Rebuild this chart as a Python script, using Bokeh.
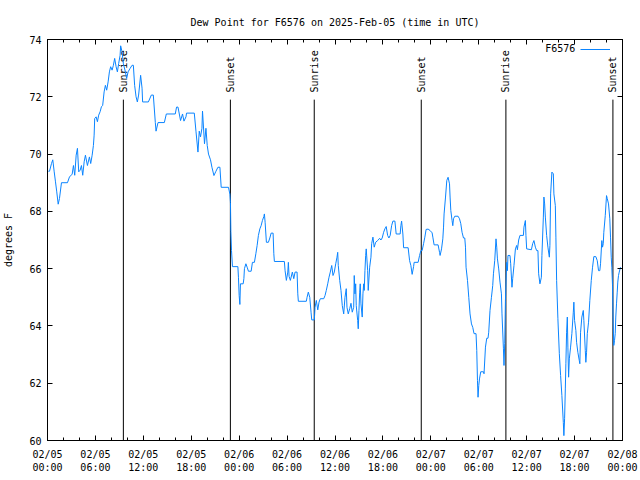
import numpy as np
from bokeh.plotting import figure
from bokeh.models import Range1d, FixedTicker, LinearAxis, Legend, LegendItem, Label
from bokeh.embed import file_html
from bokeh.resources import INLINE
from bokeh.core.properties import value

# hours since 2025-02-05 00:00 UTC
hours = [0.1, 0.25, 0.5, 0.66, 0.84, 1.0, 1.16, 1.34, 1.5, 1.75, 2.5, 2.75, 3.09, 3.25, 3.41, 3.59, 3.75,
         3.91, 4.09, 4.25, 4.41, 4.59, 4.75, 5.0, 5.25, 5.41, 5.59, 5.75, 5.84, 5.91, 6.09, 6.25, 6.41,
         6.59, 6.75, 6.91, 7.09, 7.25, 7.41, 7.59, 7.75, 7.91, 8.09, 8.25, 8.41, 8.59, 8.75, 8.91, 9.09,
         9.16, 9.34, 9.5, 9.75, 9.91, 10.09, 10.34, 10.59, 10.75, 10.91, 11.09, 11.25, 11.41, 11.66, 11.84,
         11.91, 12.63, 13.0, 13.25, 13.5, 13.59, 13.84, 14.63, 14.88, 16.0, 16.16, 16.34, 16.66, 16.91,
         17.09, 17.34, 17.41, 18.38, 18.59, 18.84, 19.0, 19.16, 19.34, 19.41, 19.66, 19.84, 20.0, 20.16,
         20.41, 20.59, 20.84, 21.09, 21.34, 21.59, 21.75, 22.66, 22.84, 22.91, 22.96, 23.04, 23.16, 23.84,
         23.91, 24.0, 24.09, 24.16, 24.5, 24.59, 24.66, 24.84, 25.0, 25.16, 25.5, 25.66, 25.91, 26.09,
         26.25, 26.41, 26.59, 26.75, 26.91, 27.09, 27.16, 27.25, 27.41, 27.66, 27.84, 28.0, 28.25, 28.34,
         28.41, 29.66, 29.75, 29.91, 30.09, 30.16, 30.25, 30.41, 30.66, 30.84, 31.0, 31.25, 31.34, 31.41,
         32.41, 32.5, 32.66, 32.84, 33.0, 33.09, 33.41, 33.5, 33.66, 33.84, 34.0, 34.16, 34.59, 34.75,
         34.91, 35.09, 35.25, 35.41, 35.59, 35.75, 35.91, 36.09, 36.25, 36.34, 36.41, 36.59, 36.75, 36.91,
         37.09, 37.25, 37.41, 37.5, 37.66, 37.84, 38.0, 38.16, 38.34, 38.41, 38.5, 38.59, 38.66, 38.84,
         38.91, 39.0, 39.09, 39.16, 39.25, 39.41, 39.5, 39.59, 39.66, 39.75, 39.84, 39.91, 40.09, 40.16,
         40.34, 40.5, 40.59, 40.75, 40.91, 41.09, 41.34, 41.59, 41.75, 41.91, 42.09, 42.25, 42.41, 42.59,
         42.75, 42.91, 43.09, 43.25, 43.5, 43.66, 44.16, 44.25, 44.34, 44.5, 44.59, 45.16, 45.34, 45.5,
         45.66, 45.84, 45.91, 46.41, 46.59, 46.75, 46.91, 47.09, 47.25, 47.41, 47.66, 47.91, 48.16, 48.25,
         48.41, 48.91, 49.09, 49.16, 49.34, 49.5, 49.59, 49.66, 49.84, 50.0, 50.16, 50.34, 50.41, 50.5,
         50.66, 50.75, 50.84, 51.0, 51.41, 51.59, 51.75, 51.91, 52.09, 52.25, 52.34, 52.41, 52.59, 52.75,
         52.91, 53.09, 53.25, 53.41, 53.66, 53.75, 53.84, 53.91, 54.0, 54.09, 54.25, 54.59, 54.66, 54.84,
         55.0, 55.16, 55.25, 55.41, 55.59, 55.75, 55.84, 56.0, 56.16, 56.25, 56.34, 56.5, 56.66, 56.84,
         56.91, 57.09, 57.16, 57.25, 57.34, 57.5, 57.59, 57.66, 57.91, 58.0, 58.16, 58.25, 58.41, 58.59,
         58.75, 58.84, 59.0, 59.16, 59.59, 59.66, 59.84, 59.91, 60.0, 60.59, 60.75, 60.91, 61.09, 61.25,
         61.41, 61.5, 61.66, 61.84, 61.91, 62.09, 62.16, 62.25, 62.34, 62.5, 62.66, 62.84, 62.91, 63.0,
         63.16, 63.34, 63.41, 63.59, 63.66, 63.75, 63.91, 64.09, 64.25, 64.41, 64.59, 64.66, 64.75, 64.84,
         64.91, 65.0, 65.09, 65.16, 65.25, 65.34, 65.5, 65.66, 65.84, 65.91, 66.0, 66.16, 66.25, 66.41,
         66.59, 66.66, 66.75, 66.91, 67.09, 67.16, 67.34, 67.41, 67.5, 67.59, 67.75, 67.91, 68.09, 68.25,
         68.41, 68.66, 68.84, 69.0, 69.16, 69.25, 69.41, 69.5, 69.59, 69.66, 69.84, 70.0, 70.09, 70.25,
         70.41, 70.5, 70.59, 70.66, 70.75, 70.84, 70.91, 71.0, 71.09, 71.16, 71.25, 71.34, 71.41, 71.5,
         71.59, 71.75]

dewpt = [69.4, 69.4, 69.67, 69.8, 69.38, 69.03, 68.68, 68.25, 68.45, 69.0, 69.0, 69.2, 69.3, 69.6, 69.26, 69.96, 70.2,
         69.38, 69.44, 69.6, 69.26, 69.73, 69.96, 69.6, 69.9, 69.67, 69.96, 70.3, 70.66, 71.24, 71.3, 71.13, 71.36,
         71.48, 71.65, 71.7, 72.17, 72.4, 72.23, 72.52, 72.87, 73.05, 72.93, 73.1, 73.34, 73.05, 72.87, 73.16, 73.45,
         73.78, 73.57, 73.16, 72.87, 72.64, 72.87, 72.99, 73.1, 73.1, 72.4, 72.0, 71.82, 72.06, 72.75, 72.3,
         71.82, 71.82, 72.06, 72.06, 71.1, 70.8, 71.1, 71.1, 71.4, 71.4, 71.64, 71.64, 71.17, 71.4,
         71.15, 71.3, 71.43, 71.43, 70.8, 70.07, 70.8, 70.6, 70.9, 71.5, 70.36, 70.9, 70.3, 70.0,
         69.8, 69.54, 69.25, 69.4, 69.54, 69.54, 68.84, 68.84, 68.6, 68.3, 67.3, 66.63, 66.07, 66.07,
         65.7, 65.06, 64.75, 65.47, 65.47, 65.65, 66.0, 66.17, 66.05, 65.91, 65.91, 66.22, 66.22, 66.52,
         66.81, 67.16, 67.39, 67.5, 67.68, 67.82, 67.91, 67.62, 66.92, 66.92, 67.07, 67.24, 67.24, 66.52,
         66.25, 66.25, 65.93, 65.59, 65.88, 66.22, 65.73, 65.59, 65.88, 65.65, 65.88, 65.88, 65.12, 64.86,
         64.86, 65.0, 65.18, 65.0, 64.48, 64.21, 64.21, 64.65, 64.89, 64.56, 64.83, 64.95, 64.95, 65.06,
         65.24, 65.47, 65.7, 65.88, 66.11, 65.76, 65.88, 66.17, 66.4, 66.57, 66.11, 65.59, 65.24, 64.71,
         64.42, 65.0, 65.3, 64.65, 64.42, 64.6, 64.79, 64.48, 64.65, 65.76, 65.12, 65.47, 64.71, 64.19,
         63.9, 64.54, 65.18, 65.47, 64.77, 64.31, 65.12, 65.47, 65.24, 65.93, 66.46, 66.69, 65.93, 65.24,
         66.05, 66.4, 66.87, 67.1, 66.75, 66.92, 66.98, 67.06, 67.0, 67.07, 67.27, 67.39, 67.47, 67.16,
         67.07, 67.16, 67.5, 67.66, 67.66, 67.21, 67.21, 67.5, 67.66, 67.21, 66.73, 66.73, 66.28, 66.11,
         65.8, 66.07, 66.22, 66.22, 66.46, 66.63, 66.63, 66.87, 67.1, 67.37, 67.38, 67.33, 67.25, 67.1,
         66.83, 66.83, 66.57, 66.46, 66.69, 67.04, 67.45, 67.91, 68.5, 69.08, 69.19, 68.96, 68.5, 68.03,
         67.68, 67.5, 67.74, 67.83, 67.83, 67.74, 67.57, 67.27, 67.07, 67.07, 66.75, 66.05, 65.59, 65.0,
         64.42, 64.07, 63.95, 63.73, 63.73, 63.14, 62.09, 61.51, 61.92, 62.15, 62.4, 62.4, 62.33, 63.26,
         63.57, 63.57, 63.78, 64.54, 65.0, 65.41, 65.82, 66.28, 67.04, 66.75, 66.34, 65.99, 65.53, 65.12,
         64.42, 63.2, 62.62, 63.38, 64.89, 66.22, 65.93, 66.46, 66.46, 66.17, 65.35, 65.65, 66.11, 66.69,
         66.81, 66.66, 67.0, 67.16, 67.16, 67.45, 67.68, 67.16, 66.69, 66.66, 66.87, 66.98, 66.75, 66.63,
         66.63, 65.82, 65.47, 65.7, 66.46, 67.8, 68.5, 68.26, 67.8, 67.16, 66.75, 66.4, 66.81, 68.61,
         69.37, 69.31, 68.61, 68.2, 67.1, 65.59, 64.25, 63.03, 62.27, 61.57, 60.63, 60.17, 60.76, 61.8,
         62.68, 63.78, 64.31, 63.26, 62.21, 62.85, 63.26, 63.73, 64.48, 64.83, 64.19, 63.84, 63.43, 63.08,
         62.79, 62.68, 63.78, 64.31, 64.54, 64.19, 63.14, 62.73, 63.08, 63.73, 64.13, 64.89, 65.59, 66.05,
         66.42, 66.42, 66.28, 65.93, 65.93, 66.17, 66.98, 66.75, 66.87, 67.27, 67.85, 68.55, 68.45, 68.26,
         67.74, 67.1, 66.4, 66.05, 65.41, 64.0, 63.32, 63.49, 63.73, 64.31, 64.77, 65.18, 65.53, 65.76,
         65.88, 66.05]

event_hours = [9.5, 22.9, 33.4, 46.8, 57.4, 70.8]
event_names = ["Sunrise", "Sunset", "Sunrise", "Sunset", "Sunrise", "Sunset"]

tick_hours = [0, 6, 12, 18, 24, 30, 36, 42, 48, 54, 60, 66, 72]
tick_labels = ["02/05\n00:00", "02/05\n06:00", "02/05\n12:00", "02/05\n18:00",
               "02/06\n00:00", "02/06\n06:00", "02/06\n12:00", "02/06\n18:00",
               "02/07\n00:00", "02/07\n06:00", "02/07\n12:00", "02/07\n18:00",
               "02/08\n00:00"]
minor_hours = list(range(0, 73, 2))
y_ticks = [60, 62, 64, 66, 68, 70, 72, 74]

FONT = "DejaVu Sans Mono"
FS = "10px"
BLUE = "#0a84ff"

p = figure(width=640, height=480, output_backend="svg", toolbar_location=None,
           x_range=Range1d(0, 72), y_range=Range1d(60, 74),
           min_border_left=46, min_border_right=18, min_border_top=39, min_border_bottom=40,
           title="Dew Point for F6576 on 2025-Feb-05 (time in UTC)")
p.title.align = "center"
p.title.text_font = FONT
p.title.text_font_size = FS
p.title.text_font_style = "normal"
p.title.text_color = "black"
p.title.standoff = 23
p.xgrid.visible = False
p.ygrid.visible = False
p.outline_line_color = "black"
p.background_fill_color = "white"
p.border_fill_color = "white"

xt = FixedTicker(ticks=tick_hours, minor_ticks=minor_hours)
yt = FixedTicker(ticks=y_ticks, minor_ticks=[])

def style_axis(ax):
    ax.axis_line_color = "black"
    ax.major_tick_line_color = "black"
    ax.minor_tick_line_color = "black"
    ax.major_tick_in = 5
    ax.major_tick_out = 0
    ax.minor_tick_in = 3
    ax.minor_tick_out = 0
    ax.major_label_text_font = FONT
    ax.major_label_text_font_size = FS
    ax.major_label_text_color = "black"

xa = p.xaxis[0]
xa.ticker = xt
xa.major_label_overrides = {h: l for h, l in zip(tick_hours, tick_labels)}
style_axis(xa)
xa.major_label_standoff = 8

ya = p.yaxis[0]
ya.ticker = yt
style_axis(ya)
ya.major_label_standoff = 6
ya.axis_label = "degrees F"
ya.axis_label_text_font = FONT
ya.axis_label_text_font_size = FS
ya.axis_label_text_font_style = "normal"
ya.axis_label_text_color = "black"
ya.axis_label_standoff = 12

# mirrored tick marks on top and right (no labels)
top = LinearAxis(ticker=xt)
style_axis(top)
top.major_label_overrides = {h: "" for h in tick_hours}
top.major_label_standoff = 0
p.add_layout(top, "above")
right = LinearAxis(ticker=yt)
style_axis(right)
right.major_label_overrides = {v: "" for v in y_ticks}
right.major_label_standoff = 0
p.add_layout(right, "right")

# day/night markers
p.segment(x0=event_hours, y0=[60] * len(event_hours), x1=event_hours, y1=[71.9] * len(event_hours),
          line_color="black", line_width=1)
p.text(x=event_hours, y=[72.15] * len(event_hours), text=event_names, angle=np.pi / 2,
       text_align="left", text_baseline="middle", text_font=value(FONT),
       text_font_size=value(FS), text_color="black")

r = p.line(hours, dewpt, line_color=BLUE, line_width=1)

legend = Legend(items=[LegendItem(label=" ", renderers=[r])], location="top_right",
                background_fill_alpha=0, border_line_alpha=0, margin=0, padding=4,
                glyph_width=30, glyph_height=12, label_standoff=0, label_width=8,
                label_text_font=FONT, label_text_font_size=FS)
p.add_layout(legend)
p.add_layout(Label(x=66.1, y=73.68, text="F6576", text_align="right", text_baseline="middle",
                   text_font=FONT, text_font_size=FS, text_color="black"))

open("out.html", "w").write(file_html(p, INLINE))
